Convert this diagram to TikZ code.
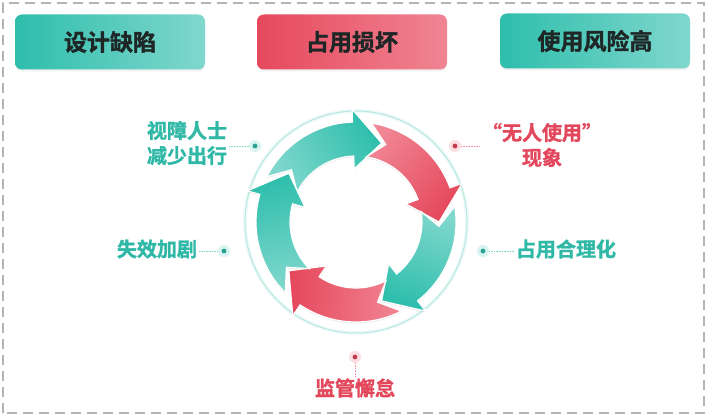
\documentclass[tikz,border=0pt]{standalone}
\usepackage{fontspec}
\newfontfamily\cjkheavy{Noto Sans CJK SC Bold}[FakeBold=1.5]
\definecolor{tealdark}{HTML}{2EBEAC}
\definecolor{teallight}{HTML}{80D7CD}
\definecolor{reddark}{HTML}{E6485C}
\definecolor{redlight}{HTML}{F08593}
\definecolor{tealtext}{HTML}{30B8A6}
\definecolor{redtext}{HTML}{E2475C}
\definecolor{inkdark}{HTML}{1E2626}
\definecolor{framegray}{HTML}{B4B4B4}
\usetikzlibrary{shadows, calc}

% one arrow of the ring: tip angle, tail colour, head colour, shading angle
\newcommand{\cyclearrow}[4]{%
  \path[arrowbody, left color=#2, right color=#3, shading angle=#4]
    ({#1+81}:100) arc[start angle={#1+81}, end angle={#1+20}, radius=100]
    -- ({#1+20}:113) -- (#1:83) -- ({#1+20}:53) -- ({#1+20}:66)
    arc[start angle={#1+20}, end angle={#1+81}, radius=66]
    -- ({#1+69}:83) -- cycle;}

\begin{document}
\begin{tikzpicture}[x=1pt, y=1pt,
  topbox/.style={rounded corners=7pt, minimum width=190pt, minimum height=55pt,
    font=\cjkheavy\fontsize{23}{26}\selectfont, text=inkdark,
    drop shadow={opacity=0.12, shadow xshift=0pt, shadow yshift=-2pt}},
  tealbox/.style={topbox, left color=tealdark, right color=teallight},
  redbox/.style={topbox, left color=reddark, right color=redlight},
  lbl/.style={font=\cjkheavy\fontsize{20}{25}\selectfont, align=center, inner sep=2pt},
  dotT/.style={circle, fill=tealdark!18, minimum size=12pt, inner sep=0pt,
    path picture={\fill[tealdark!85!black] (path picture bounding box.center) circle (2.4pt);}},
  dotR/.style={circle, fill=reddark!18, minimum size=12pt, inner sep=0pt,
    path picture={\fill[reddark!85!black] (path picture bounding box.center) circle (2.4pt);}},
  leaderT/.style={draw=tealdark!60, line width=0.6pt, densely dotted},
  leaderR/.style={draw=reddark!60, line width=0.6pt, densely dotted},
  arrowbody/.style={draw=white, line width=1.2pt,
    drop shadow={opacity=0.15, shadow xshift=0pt, shadow yshift=-1.5pt}}]
  \useasboundingbox (0,0) rectangle (707,416);

  % Frame
  \draw[framegray, line width=1.6pt, dash pattern=on 10pt off 6pt] (3,3) rectangle (704,413);

  % Top boxes
  \node[tealbox] (design) at (110,374) {设计缺陷};
  \node[redbox] (damage) at (352,374) {占用损坏};
  \node[tealbox] (risk) at (595,375) {使用风险高};

  % Ring
  \begin{scope}[shift={(356,194)}]
    \draw[tealdark!8, line width=4pt] (0,0) circle (111);
    \draw[tealdark!35, line width=1pt] (0,0) circle (111);
    \cyclearrow{72}{teallight}{tealdark}{122}
    \cyclearrow{0}{redlight}{reddark}{50}
    \cyclearrow{-72}{teallight}{tealdark}{-22}
    \cyclearrow{-144}{redlight}{reddark}{-94}
    \cyclearrow{-216}{teallight}{tealdark}{-166}
  \end{scope}

  % Labels round the ring
  \node[lbl, text=tealtext] (blind) at (187,273) {视障人士\\减少出行};
  \node[dotT] (blinddot) at (255,270) {};
  \draw[leaderT] (blind.east |- blinddot) -- (blinddot);

  \node[lbl, text=tealtext] (failure) at (157,167) {失效加剧};
  \node[dotT] (failuredot) at (224,165) {};
  \draw[leaderT] (failure.east |- failuredot) -- (failuredot);

  \node[lbl, text=redtext] (unused) at (542,271) {“无人使用”\\现象};
  \node[dotR] (unuseddot) at (455,270) {};
  \draw[leaderR] (unuseddot) -- (unused.west |- unuseddot);

  \node[lbl, text=tealtext] (normal) at (566,167) {占用合理化};
  \node[dotT] (normaldot) at (483,165) {};
  \draw[leaderT] (normaldot) -- (normal.west |- normaldot);

  \node[lbl, text=redtext] (lax) at (355,28) {监管懈怠};
  \node[dotR] (laxdot) at (355,59) {};
  \draw[leaderR] (laxdot) -- (lax.north);
\end{tikzpicture}
\end{document}
